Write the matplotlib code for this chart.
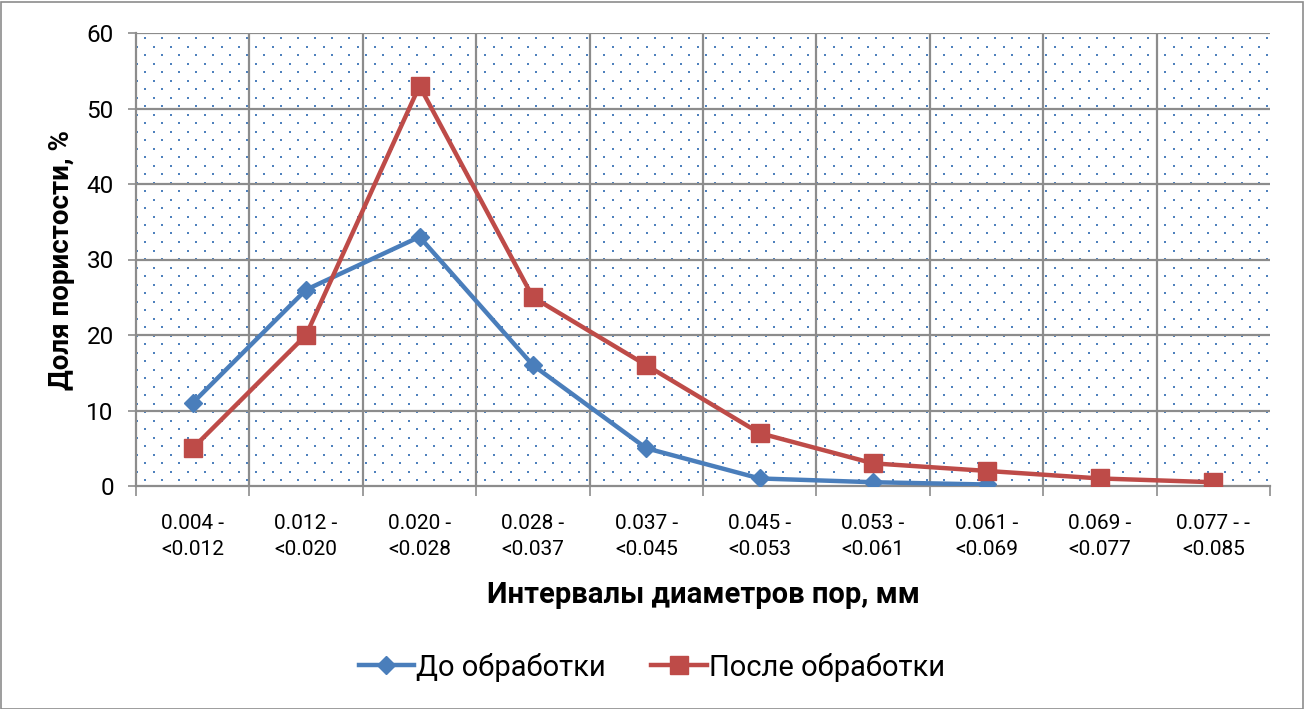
import numpy as np
import matplotlib
matplotlib.use("Agg")
import matplotlib.pyplot as plt
from matplotlib.patches import Rectangle

# data
categories = ["0.004 -\n<0.012", "0.012 -\n<0.020", "0.020 -\n<0.028", "0.028 -\n<0.037",
              "0.037 -\n<0.045", "0.045 -\n<0.053", "0.053 -\n<0.061", "0.061 -\n<0.069",
              "0.069 -\n<0.077", "0.077 - -\n<0.085"]
before = [11, 26, 33, 16, 5, 1, 0.5, 0.2]
after = [5, 20, 53, 25, 16, 7, 3, 2, 1, 0.5]
y_ticks = [0, 10, 20, 30, 40, 50, 60]

plt.rcParams['font.family'] = ['Roboto', 'DejaVu Sans']

W, H = 1304, 709
fig = plt.figure(figsize=(W / 100, H / 100), dpi=100)
fig.patches.append(Rectangle((0.5 / W, 0.5 / H), 1 - 2 / W, 1 - 2 / H, transform=fig.transFigure,
                             fill=False, edgecolor='#8c8c8c', linewidth=1.2))

# plot area in pixels
x0, x1, y0, y1 = 136, 1270, 33, 486
ax = fig.add_axes([x0 / W, 1 - y1 / H, (x1 - x0) / W, (y1 - y0) / H])

n = len(categories)
ax.set_xlim(-0.5, n - 0.5)
ax.set_ylim(0, 60)

# dotted pattern fill (decoration)
pw, ph = x1 - x0, y1 - y0
dots = []
row = 0
yy = 5.0
while yy < ph:
    xx = 9.0 if row % 2 == 0 else 0.5
    while xx < pw:
        dots.append((xx / pw, 1 - yy / ph))
        xx += 17
    yy += 8.5
    row += 1
dots = np.array(dots)
ax.scatter(dots[:, 0], dots[:, 1], s=2.2, marker='s', color='#4F81BD', linewidths=0,
           transform=ax.transAxes, zorder=0.5)

# grid
grid_c = '#8c8c8c'
for v in y_ticks[1:]:
    ax.axhline(v, color=grid_c, lw=1.6, zorder=1)
for b in np.arange(0.5, n - 0.5, 1):
    ax.axvline(b, color=grid_c, lw=1.6, zorder=1)

ax.plot(range(len(before)), before, color='#4A7EBB', lw=3.2, marker='D', markersize=9,
        label='До обработки', zorder=3)
ax.plot(range(len(after)), after, color='#BE4B48', lw=3.2, marker='s', markersize=12.5,
        label='После обработки', zorder=3)

for s in ['top', 'right']:
    ax.spines[s].set_visible(False)
for s in ['left', 'bottom']:
    ax.spines[s].set_color(grid_c)
    ax.spines[s].set_linewidth(1.6)

ax.set_yticks(y_ticks)
ax.set_xticks(range(n))
ax.set_xticklabels(categories, fontsize=15, linespacing=1.45)
ax.tick_params(axis='y', labelsize=17.5, length=6, width=1.2, color=grid_c, pad=10)
ax.tick_params(axis='x', length=0, pad=20)
ax.set_xticks(np.arange(-0.5, n, 1), minor=True)
ax.tick_params(axis='x', which='minor', length=7, width=1.2, color=grid_c)

ax.set_ylabel('Доля пористости, %', fontsize=20, fontweight='bold', labelpad=8)
ax.set_xlabel('Интервалы диаметров пор, мм', fontsize=21, fontweight='bold', labelpad=16)

fig.legend(loc='center', bbox_to_anchor=(0.5, 1 - 667 / H), ncol=2, frameon=False,
           fontsize=21, handlelength=1.9, handletextpad=0.08, columnspacing=1.55)

fig.savefig('out.png', dpi=100)
